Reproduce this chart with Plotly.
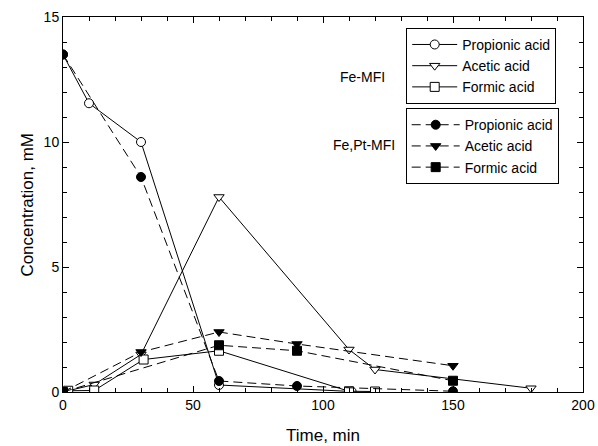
import plotly.graph_objects as go

# Fe-MFI (open markers, solid lines)
fe_prop_t = [0, 10, 30, 60, 111]
fe_prop_c = [13.5, 11.55, 10.0, 0.28, 0.02]
fe_acet_t = [0, 12, 30, 60, 110, 120, 180]
fe_acet_c = [0.0, 0.3, 1.5, 7.8, 1.7, 0.9, 0.15]
fe_form_t = [2, 12, 31, 60, 110, 120]
fe_form_c = [0.05, 0.06, 1.3, 1.65, 0.03, 0.02]

# Fe,Pt-MFI (filled markers, dashed lines)
fept_prop_t = [0, 30, 60, 90, 150]
fept_prop_c = [13.5, 8.6, 0.44, 0.24, 0.03]
fept_acet_t = [0, 30, 60, 90, 150]
fept_acet_c = [0.0, 1.6, 2.4, 1.92, 1.05]
fept_form_t = [0, 60, 90, 150]
fept_form_c = [0.0, 1.87, 1.65, 0.45]

FONT = "Liberation Sans, Arial, Helvetica, sans-serif"
DASH = "9px,5px"

fig = go.Figure()


def add(t, c, name, symbol, fill, dash, legend):
    fig.add_trace(go.Scatter(
        x=t, y=c, name=name, mode="lines+markers", legend=legend,
        line=dict(color="black", width=1, dash=dash),
        marker=dict(symbol=symbol, size=9, color=fill,
                    line=dict(color="black", width=1)),
    ))


# open symbols are drawn with a white fill so lines behind them are hidden
add(fe_prop_t, fe_prop_c, "Propionic acid", "circle", "white", "solid", "legend")
add(fe_acet_t, fe_acet_c, "Acetic acid", "triangle-down", "white", "solid", "legend")
add(fe_form_t, fe_form_c, "Formic acid", "square", "white", "solid", "legend")
add(fept_prop_t, fept_prop_c, "Propionic acid", "circle", "black", DASH, "legend2")
add(fept_acet_t, fept_acet_c, "Acetic acid", "triangle-down", "black", DASH, "legend2")
add(fept_form_t, fept_form_c, "Formic acid", "square", "black", DASH, "legend2")

axis_common = dict(
    showline=True, linecolor="black", linewidth=1, mirror="ticks",
    ticks="inside", ticklen=6, tickcolor="black", showgrid=False, zeroline=False,
    tickfont=dict(family=FONT, size=14, color="black"), automargin=False,
)

fig.update_xaxes(range=[0, 200], tickvals=[0, 50, 100, 150, 200],
                 minor=dict(dtick=10, ticks="inside", ticklen=4, tickcolor="black"),
                 **axis_common)
fig.update_yaxes(range=[0, 15], tickvals=[0, 5, 10, 15],
                 minor=dict(dtick=1, ticks="inside", ticklen=4, tickcolor="black"),
                 **axis_common)

legend_style = dict(
    bgcolor="white", bordercolor="black", borderwidth=1,
    font=dict(family=FONT, size=14, color="black"),
    xanchor="left", yanchor="top", tracegroupgap=0,
)

title_font = dict(family=FONT, size=17, color="black")
label_font = dict(family=FONT, size=14, color="black")

fig.update_layout(
    width=598, height=446,
    margin=dict(l=63, r=15, t=17, b=54, autoexpand=False),
    plot_bgcolor="white", paper_bgcolor="white",
    showlegend=True,
    legend=dict(x=0.660, y=0.971, itemwidth=45, **legend_style),
    legend2=dict(x=0.659, y=0.757, itemwidth=48, **legend_style),
    annotations=[
        # axis titles
        dict(text="Time, min", x=0.5, y=-0.115, xref="paper", yref="paper",
             xanchor="center", yanchor="middle", showarrow=False, font=title_font),
        dict(text="Concentration, mM", x=-0.069, y=0.5, xref="paper", yref="paper",
             xanchor="center", yanchor="middle", textangle=-90, showarrow=False, font=title_font),
        # catalyst labels beside each legend box
        dict(text="Fe-MFI", x=0.575, y=0.867, xref="paper", yref="paper",
             showarrow=False, font=label_font),
        dict(text="Fe,Pt-MFI", x=0.579, y=0.659, xref="paper", yref="paper",
             showarrow=False, font=label_font),
    ],
)

fig.write_html("out.html")
